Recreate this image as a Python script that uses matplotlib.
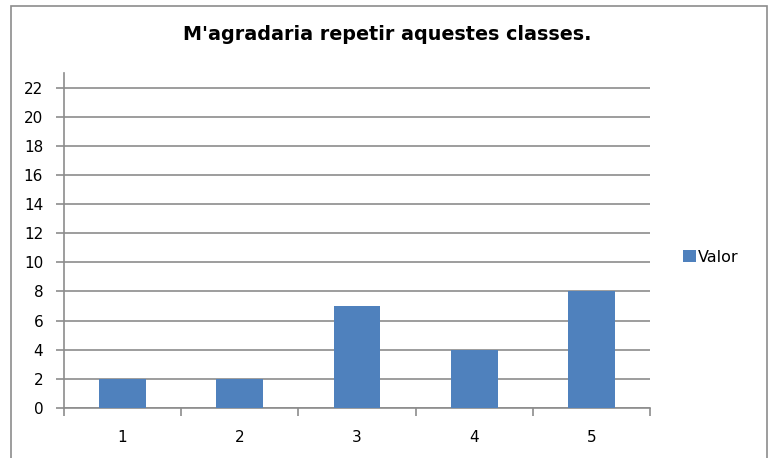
import matplotlib
matplotlib.use("Agg")
import matplotlib.pyplot as plt
from matplotlib.patches import Rectangle

# Data
categories = ["1", "2", "3", "4", "5"]
values = [2, 2, 7, 4, 8]
y_ticks = list(range(0, 23, 2))
series_name = "Valor"
title = "M'agradaria repetir aquestes classes."

W, H = 776, 458
bar_color = "#4F81BD"
grid_color = "#8C8C8C"

fig = plt.figure(figsize=(W / 100, H / 100), dpi=100)

# chart border (bottom edge runs off the image)
fig.patches.append(Rectangle((11 / W, -0.05), 756 / W, 1.05 - 6 / H,
                             transform=fig.transFigure, fill=False,
                             edgecolor="#8C8C8C", linewidth=1.2))

# plot area in pixels: left 64, right 650, y=0 at 408, top at 73
ax = fig.add_axes([64 / W, (H - 408) / H, (650 - 64) / W, (408 - 73) / H])

x = list(range(1, len(categories) + 1))
bars = ax.bar(x, values, width=0.4, color=bar_color, label=series_name, zorder=3)

ax.set_xlim(0.5, len(categories) + 0.5)
ax.set_ylim(0, 23)
ax.set_yticks(y_ticks)
ax.yaxis.grid(True, color=grid_color, linewidth=1.2, zorder=0)

ax.set_xticks(x)
ax.set_xticklabels(categories)
ax.set_xticks([i + 0.5 for i in range(len(categories) + 1)], minor=True)
ax.tick_params(axis="x", which="major", length=0, pad=16, labelsize=11)
ax.tick_params(axis="x", which="minor", length=6, color=grid_color, width=1.2)
ax.tick_params(axis="y", length=6, color=grid_color, width=1.2, labelsize=11, pad=9)

for side in ["top", "right"]:
    ax.spines[side].set_visible(False)
for side in ["left", "bottom"]:
    ax.spines[side].set_color(grid_color)
    ax.spines[side].set_linewidth(1.2)

fig.text(387 / W, 1 - 35 / H, title, ha="center", va="center",
         fontsize=13.8, fontweight="bold")

fig.legend(handles=[bars], labels=[series_name], loc="center left",
           bbox_to_anchor=(683 / W, 1 - 257 / H), frameon=False, borderpad=0,
           borderaxespad=0, fontsize=11.5, handlelength=0.8, handleheight=0.8,
           handletextpad=0.15)

fig.savefig("out.png", dpi=100)
